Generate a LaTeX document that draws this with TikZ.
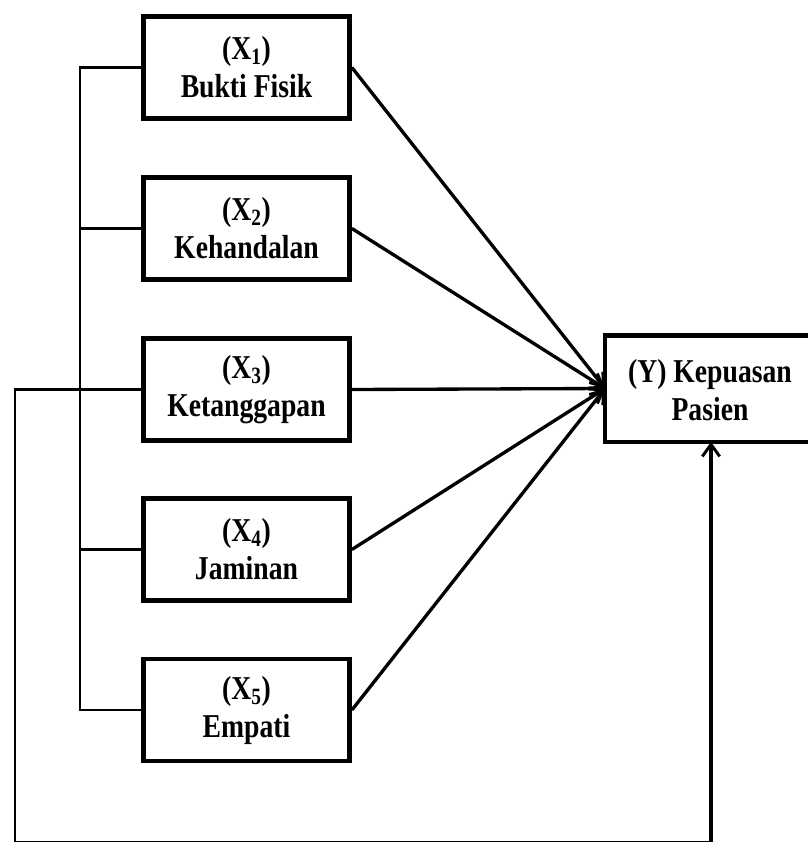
\documentclass[tikz,border=0pt]{standalone}
\usepackage{fontspec}
\setmainfont{Liberation Serif}[FakeStretch=0.83]
\usetikzlibrary{arrows.meta}
\begin{document}
\begin{tikzpicture}[x=0.75pt,y=-0.75pt,
  box/.style={draw,line width=3.6pt,minimum width=154.5pt,minimum height=76.5pt,
    align=center,inner sep=0pt,font=\fontsize{25}{28.5}\selectfont\bfseries},
  lbl/.style={align=center,inner sep=0pt,font=\fontsize{25}{28.5}\selectfont\bfseries},
  conn/.style={line width=2.2pt},
  arr/.style={line width=2.5pt,-{Straight Barb[length=9pt,width=13pt,line width=2.2pt]}}]
\useasboundingbox (0,0) rectangle (807,842);
\node[box] (b1) at (246.5,67.5) {(X\textsubscript{1})\\Bukti Fisik};
\node[box] (b2) at (246.5,228.5) {(X\textsubscript{2})\\Kehandalan};
\node[box] (b3) at (246.5,389.5) {(X\textsubscript{3})\\Ketanggapan};
\node[box] (b4) at (246.5,549.5) {(X\textsubscript{4})\\Jaminan};
\node[box] (b5) at (246.5,710) {(X\textsubscript{5})\\Empati};
\node[box,draw=none,anchor=west,minimum width=185pt] (y) at (605,388.5) {};
\draw[line width=3.6pt] (y.north east) -- (y.north west) -- (y.south west) -- (y.south east);
\node[lbl] (yl) at (710,390) {(Y) Kepuasan\\Pasien};
% left bus
\coordinate (t) at (80,67.5);
\coordinate (bb) at (80,710);
\draw[conn] (b1.west) -- (t) -- (bb) -- (b5.west);
\draw[conn] (b2.west) -- (b2.west -| t);
\draw[conn] (b4.west) -- (b4.west -| t);
% outer loop
\coordinate (o1) at (15,389.5);
\coordinate (o2) at (15,842.5);
\coordinate (o3) at (711,842.5);
\draw[conn] (b3.west) -- (o1) -- (o2) -- (o3);
\draw[arr] (o3) -- (o3 |- y.south);
% arrows to Y
\draw[arr] (b1.east) -- (y.west);
\draw[arr] (b2.east) -- (y.west);
\draw[arr] (b3.east) -- (y.west);
\draw[arr] (b4.east) -- (y.west);
\draw[arr] (b5.east) -- (y.west);
\end{tikzpicture}
\end{document}
